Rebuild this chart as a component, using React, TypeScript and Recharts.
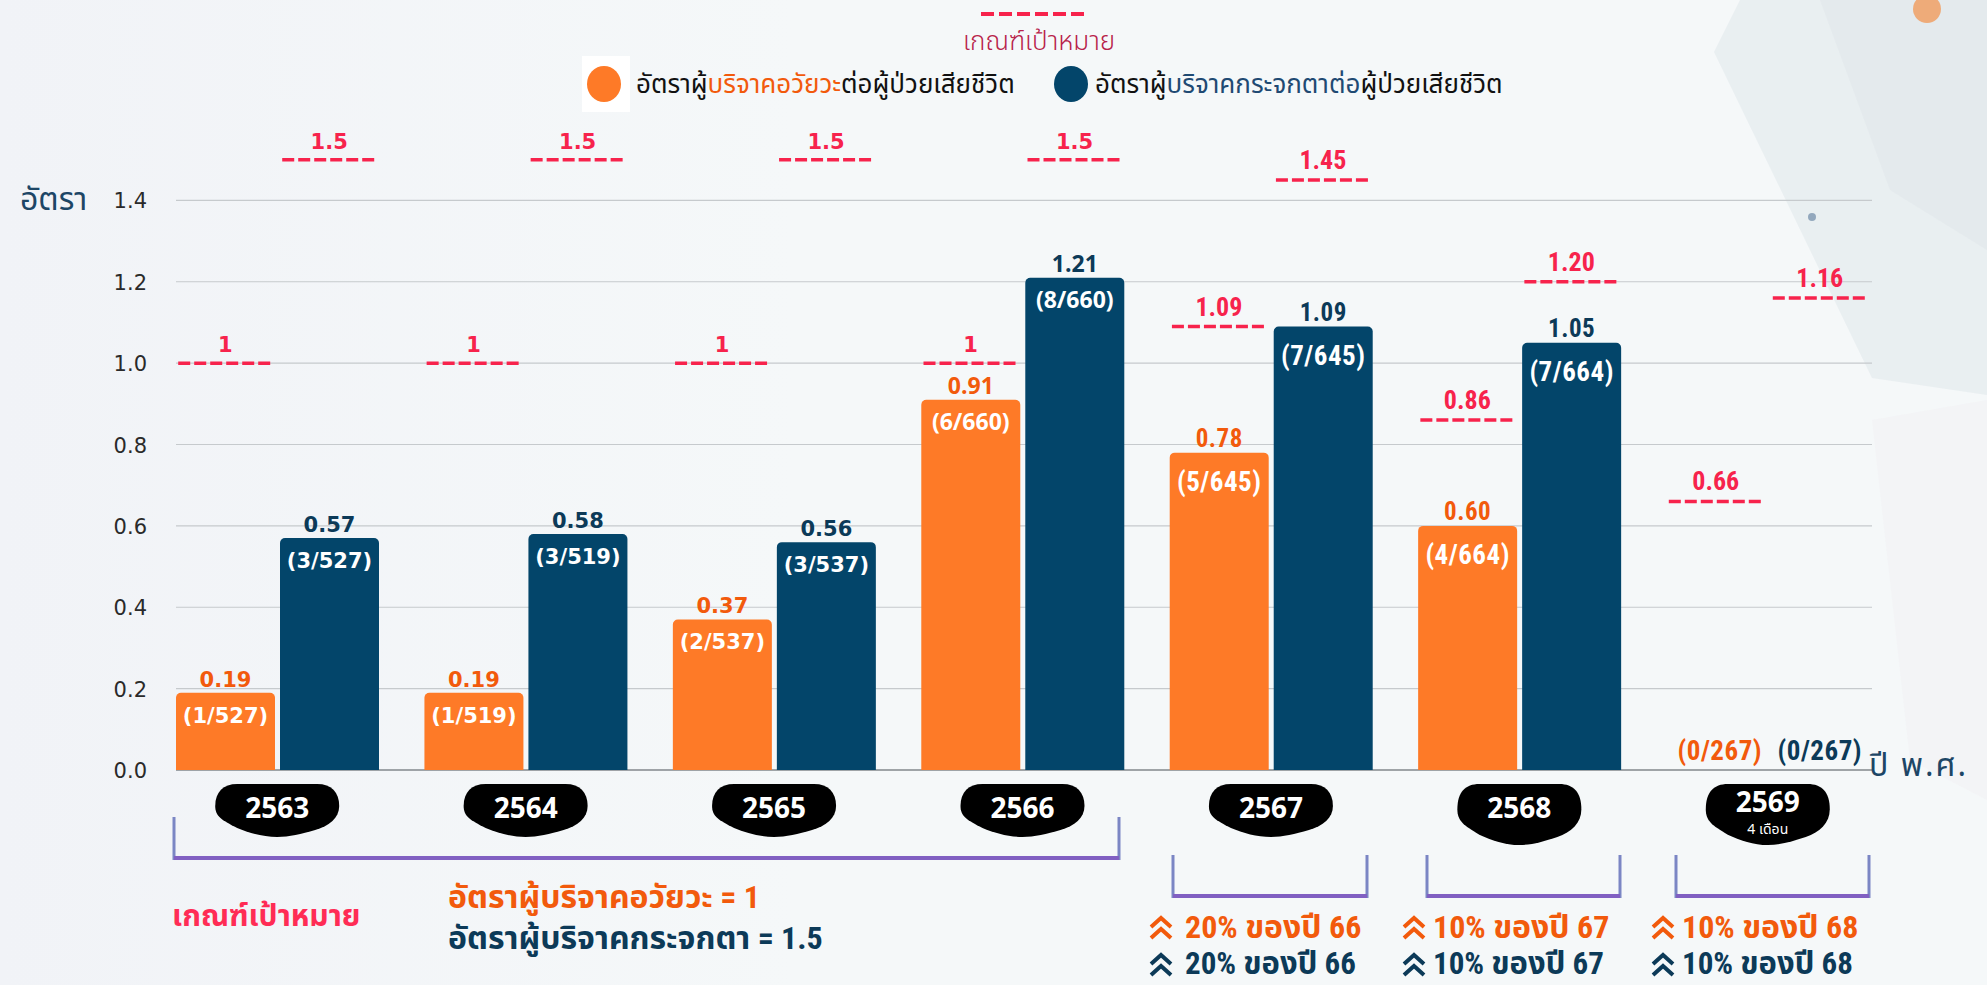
import React from 'react'
import { ComposedChart, Bar, Line, XAxis, YAxis, CartesianGrid } from 'recharts'

const years = ['2563', '2564', '2565', '2566', '2567', '2568', '2569']
const organRate = [0.19, 0.19, 0.37, 0.91, 0.78, 0.6, 0]
const corneaRate = [0.57, 0.58, 0.56, 1.21, 1.09, 1.05, 0]
const organFraction = ['(1/527)', '(1/519)', '(2/537)', '(6/660)', '(5/645)', '(4/664)', '(0/267)']
const corneaFraction = ['(3/527)', '(3/519)', '(3/537)', '(8/660)', '(7/645)', '(7/664)', '(0/267)']
const organTarget = [1, 1, 1, 1, 1.09, 0.86, 0.66]
const corneaTarget = [1.5, 1.5, 1.5, 1.5, 1.45, 1.2, 1.16]
const organTargetLabel = ['1', '1', '1', '1', '1.09', '0.86', '0.66']
const corneaTargetLabel = ['1.5', '1.5', '1.5', '1.5', '1.45', '1.20', '1.16']
const yTicks = [0, 0.2, 0.4, 0.6, 0.8, 1.0, 1.2, 1.4]
const growthNotes = ['20% ของปี 66', '10% ของปี 67', '10% ของปี 68']

const data = years.map((year, i) => ({
  year,
  organ: organRate[i],
  cornea: corneaRate[i],
  organTarget: organTarget[i],
  corneaTarget: corneaTarget[i],
}))

const ORANGE = '#fe7a27'
const NAVY = '#03456a'
const ORANGE_TXT = '#f25a0c'
const NAVY_TXT = '#0c3a58'
const RED = '#f7234c'
const THAI = "'Noto Sans Thai', 'Noto Sans Thai Looped', Sarabun, Kanit, Prompt, Loma, Garuda, Waree, 'Tlwg Typo', 'Noto Sans', sans-serif"
const WIDE = "'DejaVu Sans', Verdana, sans-serif"
const OPEN = "'Open Sans', 'DejaVu Sans', sans-serif"
const NARROW = "'Liberation Sans Narrow', 'Roboto Condensed', " + THAI

const BAR = 99
const GAP = 5
const HALF = (BAR + GAP) / 2

// label font differs by group in the original artwork
const labelFont = (i: number) =>
  i >= 4 ? { fontFamily: NARROW, fontSize: 27, letterSpacing: 0.5 }
    : i === 3 ? { fontFamily: OPEN, fontSize: 23, letterSpacing: 0 }
      : { fontFamily: WIDE, fontSize: 21, letterSpacing: 0 }

const barLabel = (fractions: string[], txtColor: string) => (props: any) => {
  const { x, y, width, height, index } = props
  if (!height) return null
  const cx = x + width / 2
  const f = labelFont(index)
  return (
    <g key={'l' + index}>
      <text x={cx} y={y - 6} textAnchor="middle" fill={txtColor} fontWeight={700} {...f}
        fontSize={index >= 4 ? 25 : f.fontSize}>
        {props.value.toFixed(2)}
      </text>
      <text x={cx} y={y + (index >= 4 ? 38 : 30)} textAnchor="middle" fill="#fff" fontWeight={700} {...f}>
        {fractions[index]}
      </text>
    </g>
  )
}

// bars of height zero still get their count written just above the axis
const zeroLabel = (fractions: string[], txtColor: string, shift: number) => (props: any) => {
  const { cx, cy, index, value } = props
  if (value !== 0) return <g key={'zz' + shift + index} />
  return (
    <text key={'z' + shift + index} x={cx + shift} y={cy - 10} textAnchor="middle" fill={txtColor}
      fontWeight={700} {...labelFont(index)}>
      {fractions[index]}
    </text>
  )
}

const targetMark = (labels: string[], shift: number) => (props: any) => {
  const { cx, cy, index } = props
  const mx = cx + shift
  const narrow = index >= 4
  return (
    <g key={'t' + shift + index}>
      <line x1={mx - 47} x2={mx + 47} y1={cy} y2={cy} stroke={RED} strokeWidth={3.5} strokeDasharray="12 4" />
      <text x={mx} y={cy - 11} textAnchor="middle" fill={RED} fontFamily={narrow ? NARROW : WIDE}
        fontWeight={700} fontSize={narrow ? 26 : 21}>
        {labels[index]}
      </text>
    </g>
  )
}

const YearTick = (props: any) => {
  const { x, y, payload, index } = props
  const top = y + 14
  const h = index >= 5 ? 61 : 53
  const k = h / 53
  const d = `M -62,${22 * k} C -62,8 -54,0 -40,0 L 40,0 C 54,0 62,8 62,${22 * k} C 62,${34 * k} 52,${42 * k} 38,${46 * k} C 24,${50 * k} 12,${53 * k} 0,${53 * k} C -14,${53 * k} -28,${49 * k} -40,${44 * k} C -56,${36 * k} -62,${32 * k} -62,${22 * k} Z`
  const last = index === years.length - 1
  return (
    <g transform={`translate(${x},${top})`}>
      <path d={d} fill="#000" />
      <text x={0} y={last ? 28 : 34} textAnchor="middle" fill="#fff" fontFamily={OPEN} fontWeight={700} fontSize={28}>
        {payload.value}
      </text>
      {last && (
        <text x={0} y={50} textAnchor="middle" fill="#fff" fontFamily={THAI} fontSize={14}>
          4 เดือน
        </text>
      )}
    </g>
  )
}

const ValueTick = (props: any) => {
  const { x, y, payload } = props
  return (
    <text x={x} y={y + 8} textAnchor="end" fill="#2a2a2a" fontFamily={WIDE} fontSize={21}>
      {payload.value.toFixed(1)}
    </text>
  )
}

const Chevrons = ({ x, y, color }: { x: number; y: number; color: string }) => (
  <g transform={`translate(${x},${y})`} fill="none" stroke={color} strokeWidth={4}>
    <polyline points="2,10 12,1 22,10" />
    <polyline points="2,21 12,12 22,21" />
  </g>
)

const Bracket = ({ x1, x2, top, bottom }: { x1: number; x2: number; top: number; bottom: number }) => (
  <g>
    <line x1={x1} x2={x1} y1={top} y2={bottom} stroke="#7b86c4" strokeWidth={3} />
    <line x1={x2} x2={x2} y1={top} y2={bottom} stroke="#7b86c4" strokeWidth={3} />
    <line x1={x1} x2={x2} y1={bottom - 2} y2={bottom - 2} stroke="#8160c2" strokeWidth={4} />
  </g>
)

export default function App() {
  return (
    <div style={{ position: 'absolute', left: 0, top: 0, width: 1987, height: 985, overflow: 'hidden', background: '#f4f7f9' }}>
      <svg width={1987} height={985} style={{ position: 'absolute', left: 0, top: 0 }}>
        <defs>
          <linearGradient id="bgL" x1="0" x2="1" y1="0" y2="0">
            <stop offset="0" stopColor="#f1f3f7" />
            <stop offset="0.4" stopColor="#f5f8f9" />
            <stop offset="1" stopColor="#f5f8f9" />
          </linearGradient>
        </defs>
        <rect width={1987} height={985} fill="url(#bgL)" />
        <polygon points="1740,0 1987,0 1987,395 1872,378 1714,52" fill="#e6ecef" opacity={0.8} />
        <polygon points="1820,0 1987,0 1987,250 1890,190" fill="#dfe6ea" opacity={0.5} />
        <polygon points="1872,420 1987,400 1987,800 1910,760" fill="#f3f2f5" opacity={0.8} />
        <circle cx={1927} cy={9} r={14} fill="#f0a064" opacity={0.85} />
        <circle cx={1812} cy={217} r={4} fill="#6e8aa6" opacity={0.7} />
      </svg>

      <div style={{ position: 'absolute', left: 0, top: 0 }}>
        <ComposedChart width={1987} height={985} data={data} barSize={BAR} barGap={GAP}
          margin={{ top: 119, right: 95, bottom: 115, left: 0 }}>
          <CartesianGrid vertical={false} horizontalValues={yTicks} x={176} width={1696} stroke="#c6cacd" strokeWidth={1.2} />
          <CartesianGrid vertical={false} horizontalValues={[0]} x={176} width={1696} stroke="#8a8f93" strokeWidth={1.5} />
          <XAxis dataKey="year" axisLine={false} tickLine={false} tickSize={0} tickMargin={0} height={100}
            tick={<YearTick />} interval={0} />
          <YAxis domain={[0, 1.6]} ticks={yTicks} width={153} axisLine={false} tickLine={false}
            tickSize={0} tickMargin={6} tick={<ValueTick />} />
          <Bar dataKey="organ" fill={ORANGE} radius={[5, 5, 0, 0]} isAnimationActive={false}
            label={barLabel(organFraction, ORANGE_TXT)} />
          <Bar dataKey="cornea" fill={NAVY} radius={[5, 5, 0, 0]} isAnimationActive={false}
            label={barLabel(corneaFraction, NAVY_TXT)} />
          <Line dataKey="organ" stroke="none" isAnimationActive={false} activeDot={false}
            legendType="none" dot={zeroLabel(organFraction, ORANGE_TXT, -HALF + 4)} />
          <Line dataKey="cornea" stroke="none" isAnimationActive={false} activeDot={false}
            legendType="none" dot={zeroLabel(corneaFraction, NAVY_TXT, HALF)} />
          <Line dataKey="organTarget" stroke="none" isAnimationActive={false} activeDot={false}
            legendType="none" dot={targetMark(organTargetLabel, -HALF)} />
          <Line dataKey="corneaTarget" stroke="none" isAnimationActive={false} activeDot={false}
            legendType="none" dot={targetMark(corneaTargetLabel, HALF)} />
        </ComposedChart>
      </div>

      <svg width={1987} height={985} style={{ position: 'absolute', left: 0, top: 0, pointerEvents: 'none' }}>
        {/* legend */}
        <line x1={981} x2={1089} y1={14} y2={14} stroke={RED} strokeWidth={4} strokeDasharray="13 5" />
        <text x={1039} y={50} textAnchor="middle" fill="#b8234a" fontFamily={THAI} fontWeight={300} fontSize={26}>
          เกณฑ์เป้าหมาย
        </text>
        <rect x={582} y={56} width={48} height={56} fill="#fff" />
        <ellipse cx={604} cy={84} rx={17} ry={18} fill={ORANGE} />
        <text x={636} y={93} fill="#111" fontFamily={THAI} fontSize={26}>
          อัตราผู้<tspan fill={ORANGE_TXT}>บริจาคอวัยวะ</tspan>ต่อผู้ป่วยเสียชีวิต
        </text>
        <ellipse cx={1071} cy={84} rx={17} ry={18} fill={NAVY} />
        <text x={1095} y={93} fill="#111" fontFamily={THAI} fontSize={26}>
          อัตราผู้<tspan fill="#1f4a73">บริจาคกระจกตาต่อ</tspan>ผู้ป่วยเสียชีวิต
        </text>

        {/* axis titles */}
        <text x={20} y={210} fill="#1d4666" fontFamily={THAI} fontSize={32}>อัตรา</text>
        <text x={1869} y={776} fill="#1d4666" fontFamily={THAI} fontSize={32} letterSpacing={2}>ปี พ.ศ.</text>

        {/* target notes */}
        <Bracket x1={174} x2={1119} top={817} bottom={860} />
        <text x={172} y={926} fill="#ff2c55" fontFamily={NARROW} fontWeight={700} fontSize={30}>เกณฑ์เป้าหมาย</text>
        <text x={448} y={908} fill={ORANGE_TXT} fontFamily={NARROW} fontWeight={700} fontSize={32}>อัตราผู้บริจาคอวัยวะ = 1</text>
        <text x={448} y={949} fill={NAVY_TXT} fontFamily={NARROW} fontWeight={700} fontSize={32}>อัตราผู้บริจาคกระจกตา = 1.5</text>

        {growthNotes.map((text, i) => {
          const left = [1173, 1427, 1676][i]
          const right = [1367, 1620, 1869][i]
          const ix = [1149, 1402, 1651][i]
          const tx = [1185, 1433, 1682][i]
          return (
            <g key={i}>
              <Bracket x1={left} x2={right} top={855} bottom={898} />
              <Chevrons x={ix} y={917} color={ORANGE_TXT} />
              <text x={tx} y={938} fill={ORANGE_TXT} fontFamily={NARROW} fontWeight={700} fontSize={32}>{text}</text>
              <Chevrons x={ix} y={954} color={NAVY_TXT} />
              <text x={tx} y={974} fill={NAVY_TXT} fontFamily={NARROW} fontWeight={700} fontSize={31}>{text}</text>
            </g>
          )
        })}
      </svg>
    </div>
  )
}
